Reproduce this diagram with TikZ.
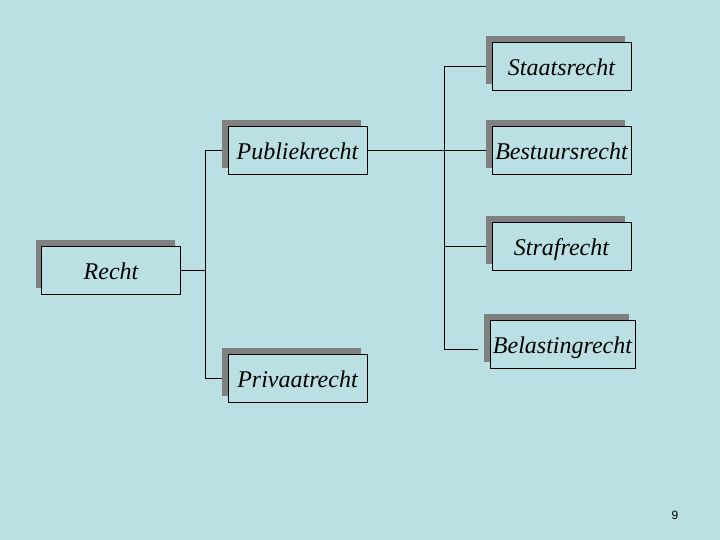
\documentclass[tikz,border=0pt]{standalone}
\usepackage{fontspec}
\setmainfont{Liberation Serif}
\setsansfont{Liberation Sans}
\usetikzlibrary{shadows,calc}
\definecolor{bg}{RGB}{187,224,227}
\definecolor{shade}{RGB}{128,128,128}
\pgfdeclarelayer{paper}
\pgfdeclarelayer{wires}
\pgfsetlayers{paper,wires,main}
\begin{document}
\begin{tikzpicture}[x=1pt,y=-1pt,
  lawbox/.style={draw=black, line width=0.8pt, fill=bg, minimum width=139pt, minimum height=48pt,
    inner sep=0pt, text height=19pt, text depth=0pt, font=\fontsize{24}{28}\selectfont\itshape,
    drop shadow={shadow xshift=-6pt, shadow yshift=6pt, fill=shade, opacity=1}},
  conn/.style={draw=black, line width=0.8pt}]
\begin{pgfonlayer}{paper}
\fill[bg] (0,0) rectangle (720,540);
\end{pgfonlayer}
\useasboundingbox (0,0) rectangle (720,540);
\node[lawbox] (recht) at (111,270) {Recht};
\node[lawbox] (publiek) at (297.5,150) {Publiekrecht};
\node[lawbox] (privaat) at (297.5,378) {Privaatrecht};
\node[lawbox] (staats) at (561.5,66) {Staatsrecht};
\node[lawbox] (bestuur) at (561.5,150.5) {Bestuursrecht};
\node[lawbox] (straf) at (561.5,246) {Strafrecht};
\node[lawbox, minimum width=145pt] (belasting) at (562.5,344) {Belastingrecht};
\node[font=\sffamily\fontsize{12}{14}\selectfont] (page) at (675,515) {9};
\begin{pgfonlayer}{wires}
\coordinate (j1) at ($(recht.east)+(24,0)$);
\coordinate (j2) at (444,66);
\coordinate (belend) at (478,349);
\draw[conn] (recht.east) -- (j1);
\draw[conn] (publiek.west) -| (j1) |- (privaat.west);
\draw[conn] (publiek.east) -- (bestuur.west |- publiek.east);
\draw[conn] (staats.west) -- (j2) |- (belend);
\draw[conn] (j2 |- straf.west) -- (straf.west);
\end{pgfonlayer}
\end{tikzpicture}
\end{document}
